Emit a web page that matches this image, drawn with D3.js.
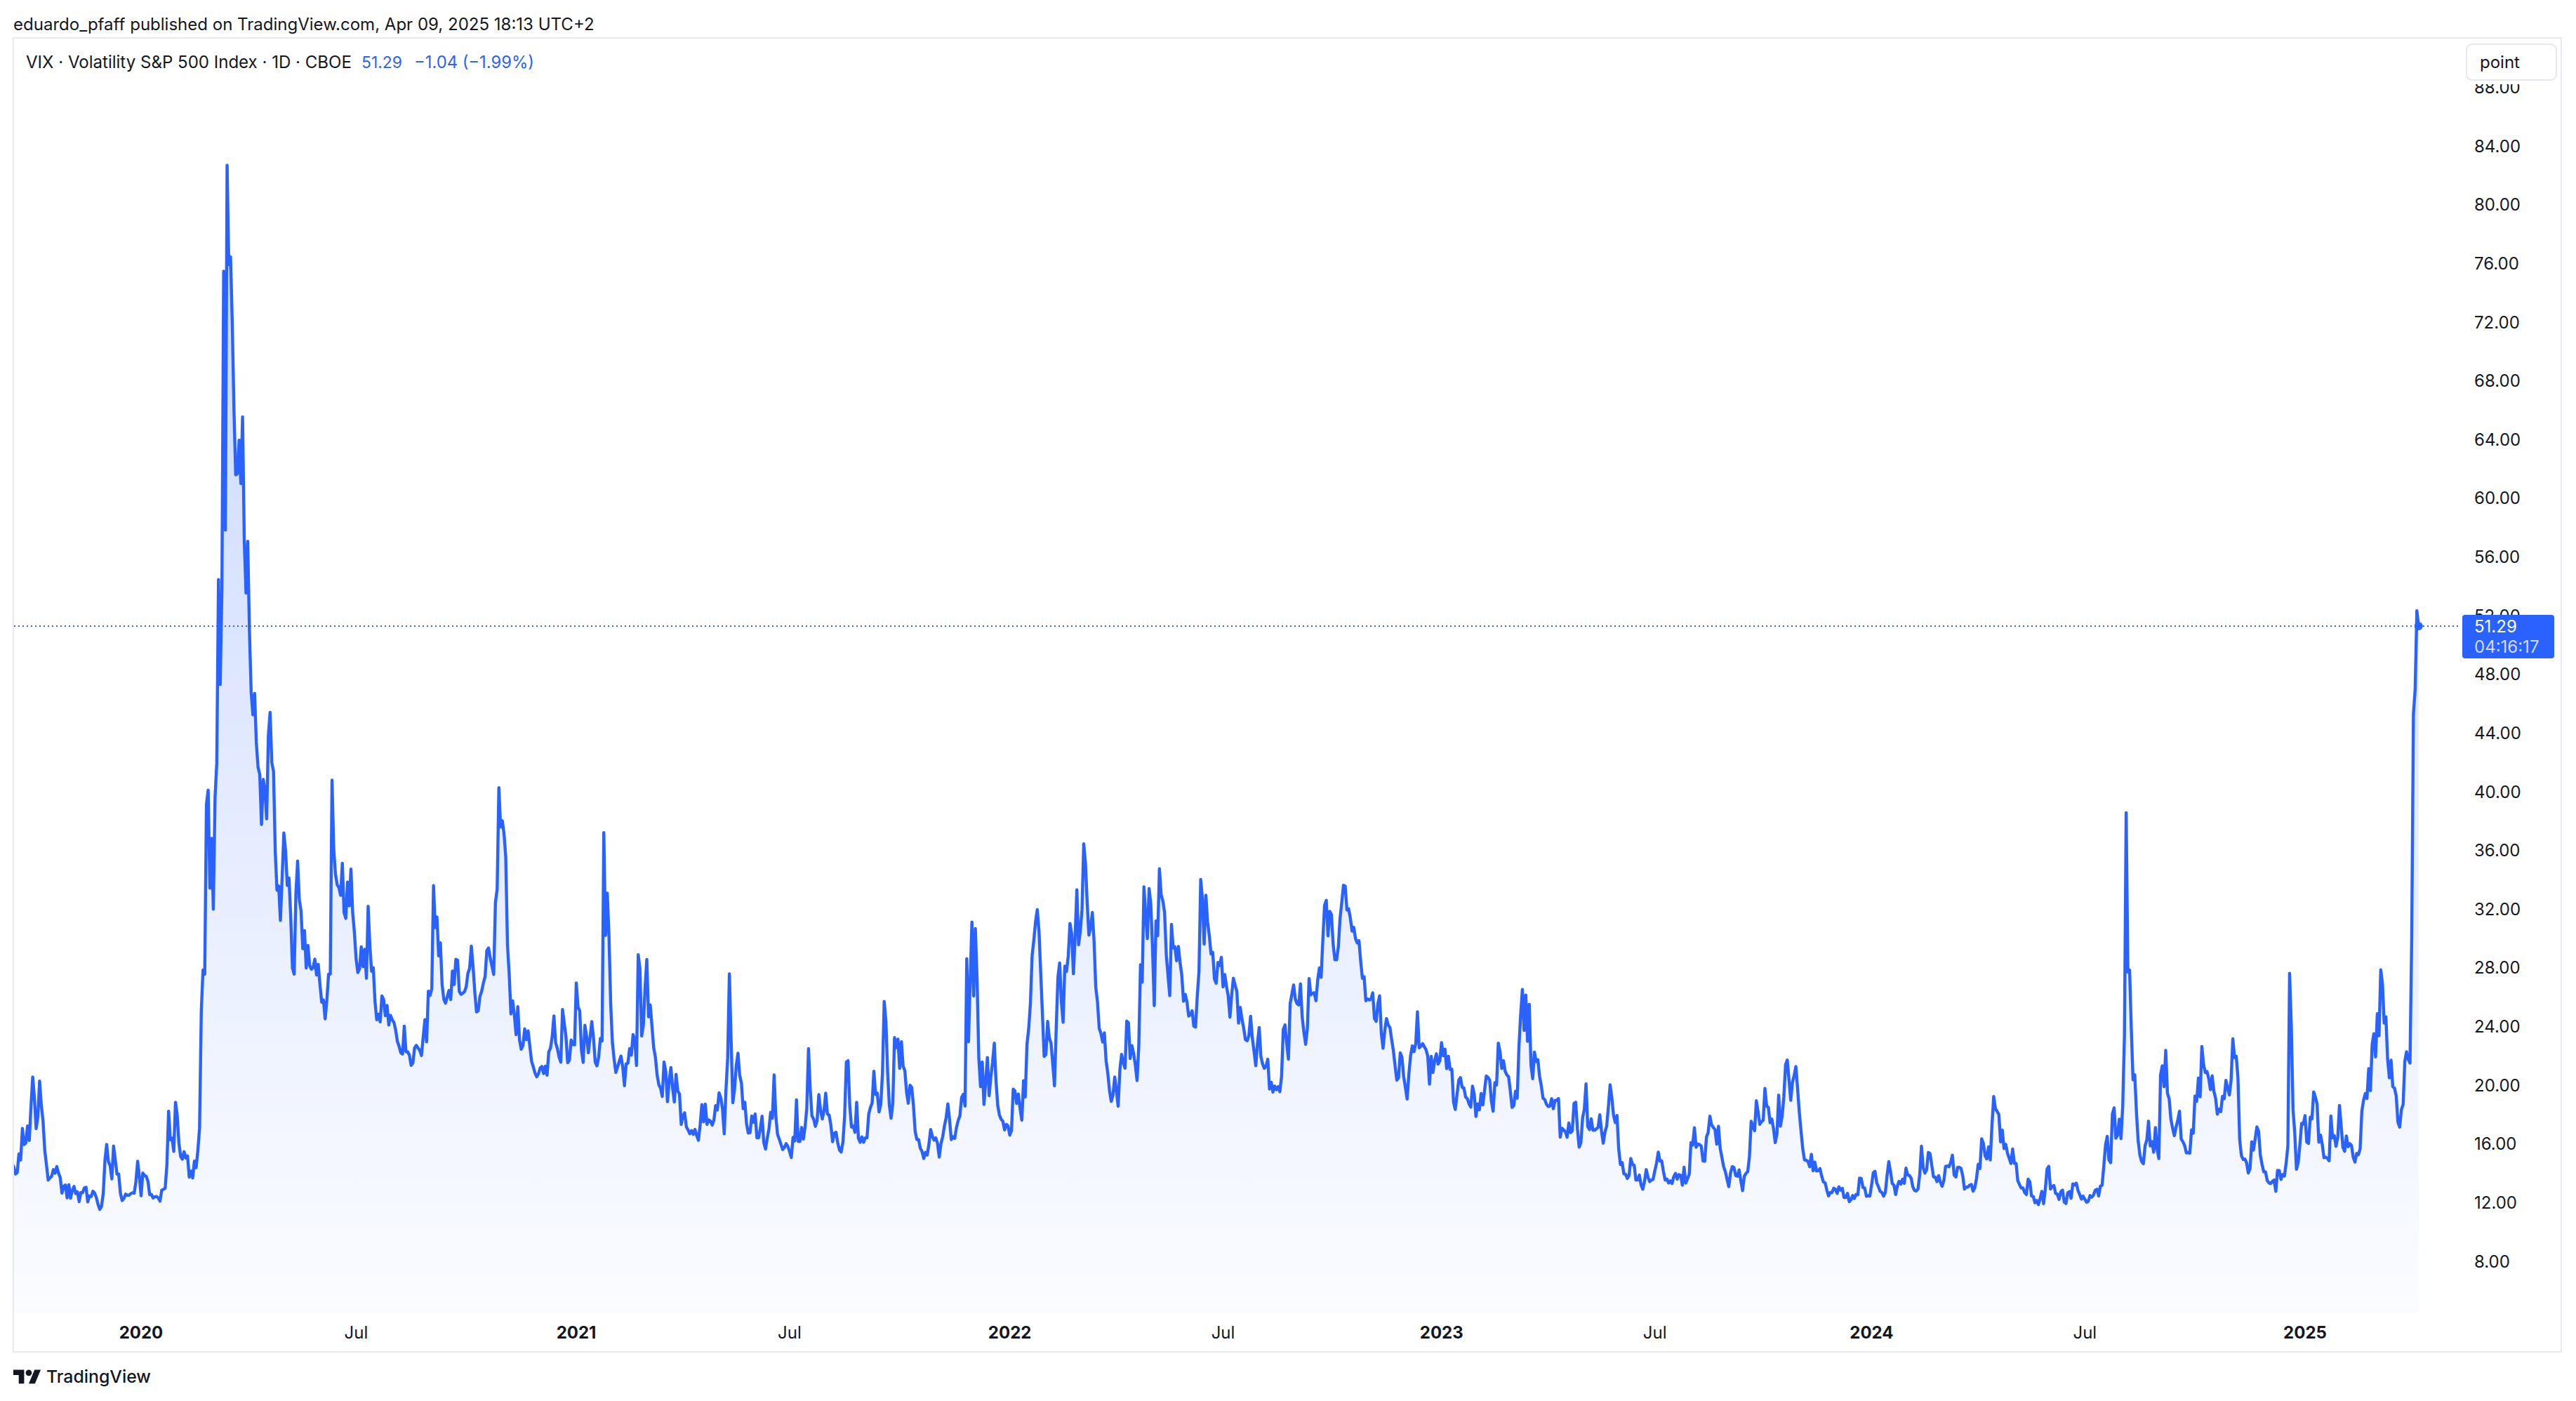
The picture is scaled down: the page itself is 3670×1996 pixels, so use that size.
<!DOCTYPE html>
<html><head><meta charset="utf-8">
<script src="https://cdn.jsdelivr.net/npm/d3@7"></script>
<style>html,body{margin:0;padding:0;background:#fff;}svg{display:block}</style>
</head><body>
<svg id="c" width="3670" height="1996"></svg>
<script>
// ---- DATA: VIX daily closes, one array per half-year (trading days) ----
const vix2019H2 = [15.20,14.61,14.22,13.74,14.67,14.44,13.95,14.05,15.32,14.91,17.05,15.96,16.07,17.22,16.24,
18.56,20.56,19.12,17.04,17.86,20.28,18.64,17.57,15.58,14.57,13.54,13.68,13.79,14.25,14.00,14.46,14.01,13.71,12.65,13.11,13.20,12.33,13.22,
12.30,12.83,13.10,12.62,12.73,12.07,12.69,12.68,13.00,13.05,12.05,12.46,12.41,12.78,12.65,12.34,11.87,11.54,11.75,12.62,
14.91,15.96,14.80,14.52,13.62,15.86,14.91,13.94,13.94,12.63,12.14,12.29,12.58,12.50,12.51,12.61,12.67,12.65,13.43,14.82,13.78];
const vix2020H1 = [12.47,14.02,13.85,13.79,13.45,12.54,12.56,12.32,12.39,12.42,12.32,12.10,12.85,12.91,12.98,14.56,18.23,16.28,16.39,15.49,18.84,
17.97,16.05,15.15,14.96,15.47,15.04,15.18,13.74,14.15,13.68,14.83,14.38,15.56,17.08,25.03,27.85,27.56,39.16,40.11,
33.42,36.82,31.99,39.62,41.94,54.46,47.30,53.90,75.47,57.83,82.69,75.91,76.45,72.00,66.04,61.59,61.67,63.95,61.00,65.54,57.08,53.54,
57.06,50.91,46.80,45.24,46.70,43.35,41.67,41.17,37.76,40.84,40.11,38.15,43.83,45.41,41.98,41.38,35.93,33.29,33.57,31.23,34.15,
37.19,35.97,33.61,34.12,31.44,27.98,27.57,33.04,35.28,32.61,31.89,29.30,30.53,27.99,29.53,28.16,27.91,28.01,28.59,27.51,
28.23,26.84,25.66,25.81,24.52,25.81,27.57,27.57,40.79,36.09,34.40,33.67,33.47,32.94,35.12,31.77,31.37,33.84,32.22,34.73,31.78,30.43];
const vix2020H2 = [28.62,27.68,27.94,29.43,28.08,29.26,27.29,32.19,29.52,27.76,28.00,25.68,24.46,24.84,24.32,26.08,25.84,24.74,25.44,24.10,24.76,24.46,
24.28,23.76,22.99,22.65,22.21,22.13,24.03,22.28,22.28,22.05,21.35,21.51,22.54,22.72,22.54,22.37,22.03,23.27,24.47,22.96,26.41,
26.12,26.57,33.60,30.75,31.46,28.81,29.71,26.87,25.85,25.59,26.04,26.46,25.83,27.78,26.86,28.58,28.51,26.38,26.19,26.27,26.37,
26.70,27.63,27.96,29.48,28.06,26.36,25.00,25.07,26.07,26.40,26.97,27.41,29.18,29.35,28.65,28.11,27.55,32.46,33.35,40.28,37.59,38.02,
37.13,35.55,29.57,27.58,24.86,25.75,24.80,23.45,25.35,23.10,22.45,22.71,23.84,23.11,23.70,22.66,21.64,21.25,20.84,20.57,
20.77,21.17,21.28,20.79,21.30,20.68,22.27,22.52,23.31,24.72,22.89,22.50,21.93,21.57,25.16,24.23,23.31,21.53,21.70,23.08,22.77,22.75];
const vix2021H1 = [26.97,25.34,25.07,22.37,21.56,24.08,23.33,22.21,23.25,24.34,23.24,21.58,21.32,21.91,23.19,23.02,37.21,30.21,33.09,
30.24,25.56,22.91,21.77,20.87,21.24,21.63,21.99,21.25,19.97,21.46,21.50,22.49,22.05,23.45,23.11,21.34,28.89,27.95,
23.35,24.10,26.67,28.57,24.66,25.47,24.03,22.56,21.91,20.69,20.03,19.79,19.23,21.58,20.95,18.88,20.30,21.20,19.81,18.86,20.74,19.61,19.40,
17.33,17.91,18.12,17.16,16.95,16.69,16.91,16.65,16.99,16.57,16.25,17.29,18.68,17.50,18.71,17.33,17.64,17.56,17.28,17.61,18.61,
18.31,19.48,19.15,18.39,16.69,19.66,21.84,27.59,23.13,18.81,19.72,21.34,22.18,20.67,20.15,18.40,18.84,17.36,16.74,16.76,
17.90,17.48,18.04,16.42,16.42,17.07,17.89,16.10,15.65,16.39,17.02,18.15,17.75,20.70,17.89,16.66,16.32,15.97,15.62,15.76,16.02,15.83];
const vix2021H2 = [15.48,15.07,16.44,16.20,19.00,16.18,16.17,17.12,16.33,17.14,18.45,22.50,19.73,17.91,17.69,17.20,17.58,19.36,18.31,17.70,18.24,
19.46,18.04,17.97,17.28,16.15,16.72,16.79,16.06,15.59,15.45,16.12,17.91,21.57,21.67,18.56,17.15,17.22,16.79,18.84,16.39,16.11,16.48,
16.11,16.41,16.41,18.03,18.49,18.80,20.95,19.37,19.46,18.18,18.69,20.81,25.71,24.36,20.87,18.63,17.75,18.76,23.25,22.56,23.14,
21.15,22.96,21.30,21.00,19.54,18.77,20.00,19.85,18.64,16.86,16.30,16.30,15.70,15.49,15.01,15.43,15.24,15.98,16.98,16.53,16.26,
16.41,16.03,15.10,16.03,16.48,17.22,17.78,18.73,17.66,16.29,16.49,16.37,17.11,17.59,17.91,19.17,19.38,18.58,28.62,22.96,27.19,
31.12,26.08,30.67,27.18,21.89,19.90,21.58,18.69,20.31,21.89,19.29,20.57,21.57,22.87,20.31,18.63,17.96,17.68,17.54,16.95,17.33,17.22];
const vix2022H1 = [16.60,16.91,19.73,19.61,18.76,19.40,18.41,17.62,20.31,19.19,22.79,23.85,25.59,28.85,29.90,31.16,31.96,30.49,27.66,24.83,
21.96,22.09,24.35,23.22,22.86,21.44,19.96,23.91,27.36,28.33,25.70,24.29,28.11,27.75,28.81,31.02,30.32,27.59,30.15,
33.32,29.57,30.48,31.98,36.45,35.13,32.45,30.23,30.75,31.77,29.83,26.67,25.67,23.87,23.53,22.94,23.57,21.67,20.81,19.63,18.90,19.33,20.56,
19.63,18.57,21.03,22.10,21.55,21.16,24.37,24.26,21.82,22.70,22.17,21.37,20.32,22.68,28.21,27.02,33.52,31.60,29.99,33.40,
32.34,29.25,25.42,31.20,30.19,34.75,32.99,32.56,31.77,28.87,27.47,26.10,30.96,29.35,29.43,28.48,29.45,28.37,27.50,25.72,26.19,
25.69,24.72,24.79,25.07,24.02,23.96,26.09,27.75,34.02,32.69,29.62,32.95,31.13,30.19,28.95,29.05,27.23,26.95,28.36,28.16,28.71];
const vix2022H2 = [26.70,27.54,26.73,26.08,24.64,26.17,27.29,26.82,26.40,24.23,25.30,24.50,23.88,23.11,23.03,23.36,24.69,23.24,22.33,21.33,
22.84,23.93,21.95,21.44,21.15,21.29,21.77,19.74,20.20,19.53,19.95,19.69,19.90,19.56,20.60,23.80,24.11,22.82,21.78,25.56,26.21,26.83,25.87,
25.56,25.47,26.91,24.64,23.61,22.79,23.87,27.27,26.16,26.27,26.30,25.76,27.16,27.99,27.35,29.92,32.26,32.60,30.18,31.84,31.62,
29.59,28.55,28.55,29.42,31.36,32.45,33.63,33.57,31.94,32.02,31.37,30.50,30.76,29.98,29.69,29.85,28.46,27.28,27.39,25.75,25.88,
25.81,25.86,26.30,24.55,24.35,25.54,26.09,23.53,22.52,23.73,24.54,24.11,23.93,23.12,22.36,21.32,20.35,20.50,22.21,21.89,20.58,
19.84,19.06,20.75,22.01,22.68,22.29,22.83,25.00,22.55,22.66,22.83,22.62,22.42,21.97,20.07,21.97,20.87,21.65,22.14,21.44,21.67];
const vix2023H1 = [22.90,22.01,22.46,21.13,21.97,21.07,21.09,18.83,18.35,19.36,20.34,20.52,19.85,19.81,19.20,19.08,18.73,18.51,19.94,19.40,
17.87,18.73,18.33,19.43,18.66,19.63,20.63,20.53,20.34,18.91,18.23,20.17,20.02,22.87,22.29,21.14,21.67,20.95,20.70,
20.58,19.59,18.49,18.61,19.59,19.11,22.61,24.80,26.52,23.73,26.14,22.99,25.51,21.38,20.45,22.26,21.61,21.74,20.60,19.97,19.12,19.02,18.70,
18.55,18.58,19.08,18.40,18.97,18.97,19.09,16.46,17.07,16.95,16.83,16.46,17.42,16.77,16.89,18.76,18.84,17.03,15.78,
16.08,17.78,18.34,20.09,17.19,16.98,17.71,16.94,16.93,17.03,17.12,17.99,16.87,16.05,16.81,17.21,18.53,20.03,19.14,17.95,17.46,17.94,
15.65,14.60,14.73,13.96,13.94,13.65,13.83,15.01,14.61,14.54,13.54,13.54,13.88,13.20,12.91,13.44,14.25,13.74,13.43,13.54,13.59];
const vix2023H2 = [14.18,14.69,15.44,14.83,14.84,14.13,13.54,13.61,13.34,13.48,13.30,13.76,13.99,13.60,13.91,13.86,13.19,14.41,13.33,13.63,
13.93,16.09,15.92,17.10,15.77,15.99,15.96,15.85,14.84,14.82,16.46,16.78,17.89,17.30,17.13,16.97,15.98,17.20,15.68,15.08,14.45,14.11,13.57,
13.09,14.02,14.45,14.40,13.84,13.80,14.23,13.48,12.82,13.79,14.00,14.11,15.14,17.54,17.20,16.90,18.94,18.22,17.34,17.52,
17.61,19.78,18.58,18.49,17.45,17.70,17.03,16.09,16.69,19.32,17.21,17.88,19.22,21.40,21.71,20.37,18.97,20.19,20.68,21.27,19.75,18.14,
16.87,15.66,14.91,14.89,14.81,14.45,15.29,14.17,14.76,14.16,14.18,14.32,13.80,13.41,13.35,12.85,12.46,12.69,12.69,12.98,12.92,
12.63,13.08,12.85,12.97,12.35,12.35,12.63,12.07,12.19,12.48,12.28,12.56,12.53,13.67,13.65,13.03,12.99,12.43,12.47,12.45];
const vix2024H1 = [13.20,14.04,14.13,13.35,13.08,12.76,12.69,12.44,12.70,13.84,14.79,14.13,13.30,13.19,12.55,13.14,13.45,13.26,13.60,13.31,14.35,
13.88,13.85,13.67,13.06,12.83,12.79,12.93,13.93,15.85,14.38,14.01,14.24,15.42,15.34,14.54,13.75,13.74,13.43,13.84,13.40,
13.11,13.49,14.46,14.50,14.44,14.74,15.23,13.88,13.75,14.40,14.41,14.33,13.82,12.92,13.06,13.06,13.19,13.24,12.78,13.01,
13.65,14.61,14.33,16.35,16.03,15.19,14.98,15.80,14.91,17.31,19.23,18.40,18.21,18.00,16.14,16.94,15.69,15.97,15.37,15.03,14.67,15.65,
14.68,14.68,13.49,13.23,13.00,13.00,12.69,12.55,13.60,13.42,12.45,12.42,11.99,12.15,11.86,12.29,12.77,11.93,12.92,14.28,14.47,12.92,
13.11,13.16,12.63,12.58,12.22,12.74,12.85,12.04,11.94,12.66,12.75,12.30,13.28,13.20,13.33,12.84,12.55,12.24,12.44];
const vix2024H2 = [12.22,12.03,12.09,12.48,12.37,12.51,12.85,12.91,12.46,13.12,13.19,14.48,15.93,16.52,14.91,14.72,18.04,18.46,16.39,16.60,17.69,16.36,
18.59,23.39,38.57,27.71,27.85,23.79,20.37,20.71,18.12,16.19,15.23,14.80,14.65,15.88,16.27,17.55,15.86,16.15,15.43,17.11,15.65,15.00,
20.72,21.32,19.90,22.38,19.45,19.08,17.69,17.07,16.56,17.14,17.61,18.23,16.33,16.15,15.89,15.39,15.41,15.37,16.96,16.73,
19.26,18.90,20.49,19.21,22.64,21.42,20.86,20.93,20.46,19.70,20.64,19.58,19.11,18.03,18.37,18.20,19.24,19.08,20.33,19.80,19.34,20.35,23.16,
21.88,21.98,20.49,16.27,15.20,14.94,14.97,14.71,14.02,14.31,16.14,15.58,16.35,17.16,16.87,15.24,14.60,14.10,14.10,13.51,
13.34,13.30,13.45,13.54,12.77,14.19,14.18,13.58,13.92,13.81,14.69,15.87,27.62,24.09,18.36,16.78,14.27,14.73,15.95,17.40,17.35];
const vix2025H1 = [17.93,16.13,16.04,17.82,17.70,19.54,19.19,18.71,16.12,16.60,15.97,15.06,15.10,15.02,14.85,17.90,16.41,16.56,15.84,16.43,
18.62,17.21,15.77,15.50,16.54,15.81,16.02,15.89,15.10,14.77,15.35,15.27,15.66,18.21,18.98,19.43,19.10,21.13,19.63,
22.78,23.51,21.93,24.87,23.37,27.86,26.92,24.23,24.66,21.77,20.51,21.70,19.90,19.80,19.28,17.48,17.15,18.33,18.69,21.65,22.28,
21.77,21.51,30.02,45.31,46.98,52.33,51.29];

const periods = [vix2019H2, vix2020H1, vix2020H2, vix2021H1, vix2021H2, vix2022H1, vix2022H2,
                 vix2023H1, vix2023H2, vix2024H1, vix2024H2, vix2025H1];
const periodLabels = [null, "2020", "Jul", "2021", "Jul", "2022", "Jul", "2023", "Jul", "2024", "Jul", "2025"];
const yTickValues = [8,12,16,20,24,28,32,36,40,44,48,52,56,60,64,68,72,76,80,84,88];
const lastPrice = 51.29, priceChange = -1.04, priceChangePct = -1.99;
const countdown = "04:16:17";
const headerText = "eduardo_pfaff published on TradingView.com, Apr 09, 2025 18:13 UTC+2";
const legendText = "VIX \u00b7 Volatility S&P 500 Index \u00b7 1D \u00b7 CBOE";

// ---- BUILD ----
const data = [];
const periodStart = [];
periods.forEach(arr => { periodStart.push(data.length); arr.forEach(v => data.push({i: data.length, v})); });

const FONT = "Inter, 'Noto Sans', Roboto, sans-serif";
const TXT = "#131722", BLUE = "#2962ff";
const pane = {left: 20, right: 3502, top: 55, bottom: 1870};

const svg = d3.select("#c").attr("font-family", FONT);
svg.append("rect").attr("width", 3670).attr("height", 1996).attr("fill", "#fff");

const x = d3.scaleLinear().domain([periodStart[1], periodStart[11]]).range([201, 3284]);
const y = d3.scaleLinear().domain([8, 84]).range([1797, 208]);

function fit(sel, target) {
  const w = sel.node().getComputedTextLength();
  const fs = +sel.attr("font-size");
  if (w > 0) sel.attr("font-size", fs * target / w);
  return sel;
}

// frame
svg.append("rect").attr("x", 19).attr("y", 54).attr("width", 3630).attr("height", 1872)
  .attr("fill", "none").attr("stroke", "#e8eaef").attr("stroke-width", 2);

// header
fit(svg.append("text").attr("x", 19).attr("y", 35).attr("dy", "0.35em").attr("font-size", 26)
  .attr("fill", TXT).text(headerText), 828);

// legend
fit(svg.append("text").attr("x", 37).attr("y", 89).attr("dy", "0.35em").attr("font-size", 24)
  .attr("fill", TXT).text(legendText), 464);
fit(svg.append("text").attr("x", 515).attr("y", 89).attr("dy", "0.35em").attr("font-size", 24)
  .attr("fill", BLUE).text(lastPrice.toFixed(2)), 58);
fit(svg.append("text").attr("x", 590).attr("y", 89).attr("dy", "0.35em").attr("font-size", 24)
  .attr("fill", BLUE).text("\u2212" + Math.abs(priceChange).toFixed(2) + " (\u2212" + Math.abs(priceChangePct).toFixed(2) + "%)"), 171);

// clip
const defs = svg.append("defs");
defs.append("clipPath").attr("id", "paneClip").append("rect")
  .attr("x", pane.left).attr("y", pane.top).attr("width", pane.right - pane.left).attr("height", pane.bottom - pane.top);
const maxV = d3.max(data, d => d.v);
const grad = defs.append("linearGradient").attr("id", "areaGrad").attr("gradientUnits", "userSpaceOnUse")
  .attr("x1", 0).attr("x2", 0).attr("y1", y(maxV)).attr("y2", pane.bottom);
grad.append("stop").attr("offset", 0).attr("stop-color", BLUE).attr("stop-opacity", 0.26);
grad.append("stop").attr("offset", 1).attr("stop-color", BLUE).attr("stop-opacity", 0.02);

const g = svg.append("g").attr("clip-path", "url(#paneClip)");
g.append("path").datum(data)
  .attr("d", d3.area().x(d => x(d.i)).y0(pane.bottom).y1(d => y(d.v)))
  .attr("fill", "url(#areaGrad)");
g.append("path").datum(data)
  .attr("d", d3.line().x(d => x(d.i)).y(d => y(d.v)))
  .attr("fill", "none").attr("stroke", BLUE).attr("stroke-width", 4.4)
  .attr("stroke-linejoin", "round").attr("stroke-linecap", "round");

// price line
svg.append("line").attr("x1", pane.left).attr("x2", pane.right)
  .attr("y1", y(lastPrice)).attr("y2", y(lastPrice))
  .attr("stroke", BLUE).attr("stroke-width", 2).attr("stroke-dasharray", "2 4");
const last = data[data.length - 1];
svg.append("circle").attr("cx", x(last.i)).attr("cy", y(last.v)).attr("r", 6).attr("fill", BLUE);

// y axis labels
svg.append("g").selectAll("text").data(yTickValues).join("text")
  .attr("x", 3525).attr("y", d => y(d)).attr("dy", "0.36em")
  .attr("font-size", 24).attr("fill", TXT).text(d => d.toFixed(2));

// x axis labels
const xt = periodLabels.map((l, k) => ({l, i: periodStart[k]})).filter(d => d.l);
svg.append("g").selectAll("text").data(xt).join("text")
  .attr("x", d => x(d.i)).attr("y", 1898).attr("dy", "0.36em").attr("text-anchor", "middle")
  .attr("font-size", 24).attr("font-weight", d => d.l === "Jul" ? 400 : 700)
  .attr("fill", TXT).text(d => d.l);

// price label box
const py = y(lastPrice);
svg.append("rect").attr("x", 3508).attr("y", py - 16).attr("width", 131).attr("height", 62)
  .attr("rx", 4).attr("fill", BLUE);
svg.append("text").attr("x", 3525).attr("y", py).attr("dy", "0.36em").attr("font-size", 24)
  .attr("fill", "#fff").text(lastPrice.toFixed(2));
svg.append("text").attr("x", 3525).attr("y", py + 29).attr("dy", "0.36em").attr("font-size", 24)
  .attr("fill", "#fff").attr("fill-opacity", 0.78).text(countdown);

// "point" box (with white backing that hides the top of the highest price label)
svg.append("rect").attr("x", 3504).attr("y", 56).attr("width", 144).attr("height", 64).attr("fill", "#fff");
svg.append("rect").attr("x", 3514).attr("y", 63).attr("width", 128).attr("height", 51).attr("rx", 8)
  .attr("fill", "#fff").attr("stroke", "#e6e8ee").attr("stroke-width", 2);
svg.append("text").attr("x", 3533).attr("y", 89).attr("dy", "0.33em").attr("font-size", 24)
  .attr("fill", TXT).text("point");

// TradingView logo
const logo = svg.append("g").attr("transform", "translate(19,1947) scale(1.1)");
logo.append("path").attr("d", "M14 22H7V11H0V4h14v18ZM28 22h-8l7.5-18h8L28 22Z").attr("fill", TXT);
logo.append("circle").attr("cx", 20).attr("cy", 8).attr("r", 4).attr("fill", TXT);
fit(svg.append("text").attr("x", 66).attr("y", 1961).attr("dy", "0.35em").attr("font-size", 26)
  .attr("font-weight", 500).attr("fill", TXT).text("TradingView"), 149);
</script>
</body></html>
